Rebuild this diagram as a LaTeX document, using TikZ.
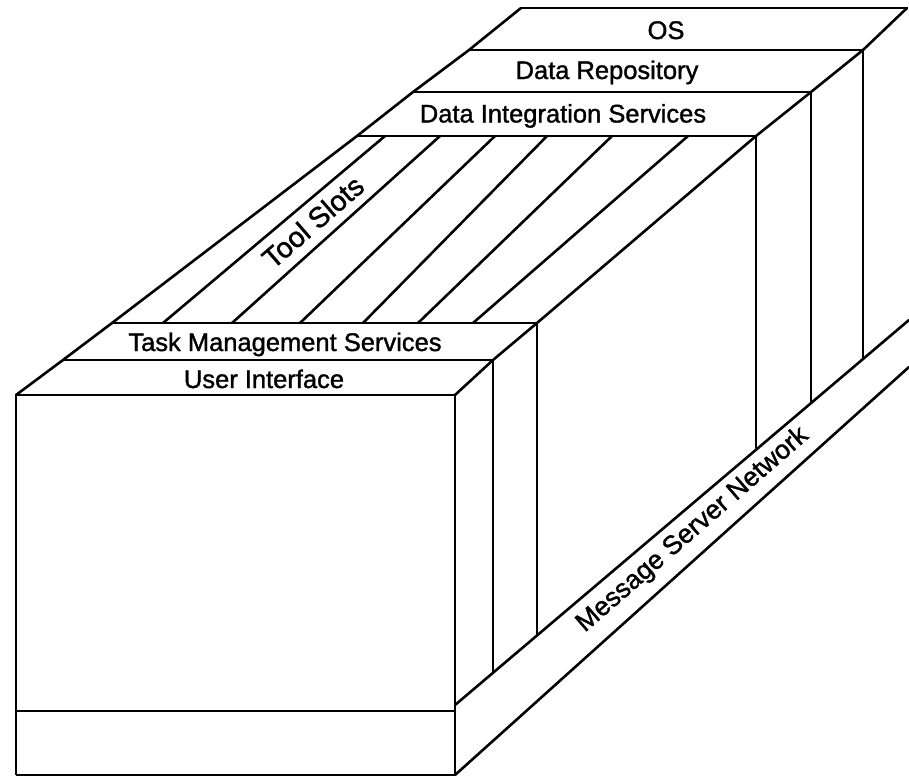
\documentclass[tikz,border=0pt]{standalone}
\usepackage{fontspec}
\setmainfont{Liberation Sans}[BoldFont={Liberation Sans}, BoldFeatures={FakeBold=1.3}]
\begin{document}
\begin{tikzpicture}[x=1pt,y=-1pt,
  hline/.style={line width=1.8pt},
  dline/.style={line width=2.6pt, line join=round, line cap=round},
  vline/.style={line width=1.4pt},
  lbl/.style={font=\fontsize{25.5}{30}\selectfont\bfseries, inner sep=0pt, text height=18pt, text depth=0pt}]
\fill[white] (0,0) rectangle (909,777);
\useasboundingbox (0,0) rectangle (909,777);
% corners
\coordinate (F1) at (16,395);  \coordinate (F2) at (455,395);
\coordinate (F3) at (455,775); \coordinate (F4) at (16,775);
\coordinate (M1) at (16,711);  \coordinate (M2) at (455,711);
\coordinate (U1) at (63,360);  \coordinate (U2) at (493,360);
\coordinate (T1) at (112,323); \coordinate (T2) at (537,323);
\coordinate (D1) at (357,136); \coordinate (D2) at (756,136);
\coordinate (I1) at (413,92);  \coordinate (I2) at (811,92);
\coordinate (R1) at (469,50);  \coordinate (R2) at (863,50);
\coordinate (O1) at (521,8);   \coordinate (O2) at (907,8);
% band
\coordinate (B1) at (455,705); \coordinate (B2) at (909,320);
\coordinate (B3) at (909,367);
% vertical feet on the band
\coordinate (U2b) at (493,672.8);
\coordinate (T2b) at (537,635.5);
\coordinate (D2b) at (756,449.8);
\coordinate (I2b) at (811,403.1);
\coordinate (R2b) at (863,359.0);
% stripe ends
\coordinate (S1a) at (163,323); \coordinate (S1b) at (385,136);
\coordinate (S2a) at (232,323); \coordinate (S2b) at (440,136);
\coordinate (S3a) at (300,323); \coordinate (S3b) at (495,136);
\coordinate (S4a) at (363,323); \coordinate (S4b) at (547,136);
\coordinate (S5a) at (418,323); \coordinate (S5b) at (612,136);
\coordinate (S6a) at (473,323); \coordinate (S6b) at (688,136);

% front face
\draw[vline] (F1) -- (F4);
\draw[vline] (F2) -- (F3);
\draw[hline] (F1) -- (F2);
\draw[hline] (M1) -- (M2);
\draw[hline] (F4) -- (F3);
% horizontal strip edges
\draw[hline] (U1) -- (U2);
\draw[hline] (T1) -- (T2);
\draw[hline] (D1) -- (D2);
\draw[hline] (I1) -- (I2);
\draw[hline] (R1) -- (R2);
\draw[hline] (O1) -- (O2);
% depth edges
\draw[dline] (F1) -- (U1) -- (T1) -- (D1) -- (I1) -- (R1) -- (O1);
\draw[dline] (F2) -- (U2) -- (T2) -- (D2) -- (I2) -- (R2) -- (O2);
% stripes
\foreach \s in {1,...,6} \draw[dline] (S\s a) -- (S\s b);
% verticals
\draw[vline] (U2) -- (U2b);
\draw[vline] (T2) -- (T2b);
\draw[vline] (D2) -- (D2b);
\draw[vline] (I2) -- (I2b);
\draw[vline] (R2) -- (R2b);
% band
\draw[dline] (B1) -- (B2);
\draw[dline] (F3) -- (B3);

% labels
\node[lbl] (os) at (666,30) {OS};
\node[lbl] (dr) at (607,70) {Data Repository};
\node[lbl] (dis) at (563,113.5) {Data Integration Services};
\node[lbl] (tms) at (285,342) {Task Management Services};
\node[lbl] (ui) at (264,379) {User Interface};
\node[lbl, font=\fontsize{28.5}{32}\selectfont\bfseries, text height=20pt, rotate=41] (ts) at (313,222) {Tool Slots};
\node[lbl, font=\fontsize{26.5}{30}\selectfont\bfseries, text height=19pt, rotate=41] (msn) at (691,528) {Message Server Network};
\end{tikzpicture}
\end{document}
